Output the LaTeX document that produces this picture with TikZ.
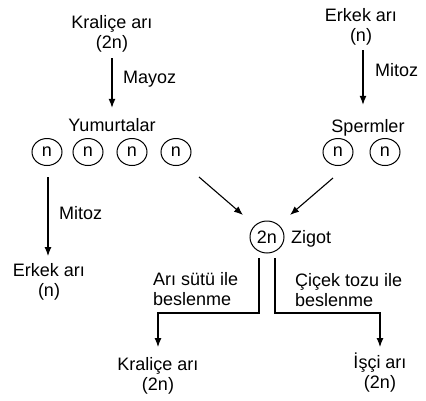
\documentclass[tikz,border=0pt]{standalone}
\usepackage{fontspec}
\setmainfont{Liberation Sans}
\usetikzlibrary{arrows.meta,calc,shapes.geometric}
\begin{document}
\begin{tikzpicture}[x=1pt,y=-1pt,
  every node/.style={inner sep=0pt,font=\fontsize{18}{20}\selectfont},
  txt/.style={align=center},
  lbl/.style={anchor=base west},
  cell/.style={draw,ellipse,line width=1pt,minimum width=30pt,minimum height=27pt},
  bigcell/.style={draw,ellipse,line width=1pt,minimum width=34pt,minimum height=32pt},
  arr/.style={line width=1.1pt,-{Latex[length=9pt,width=7pt]}},
  ln/.style={line width=1.1pt}]
\useasboundingbox (0,0) rectangle (426,400);
% top texts
\node[txt,anchor=north] (kq) at (112,15) {Kraliçe arı\\(2n)};
\node[txt,anchor=north] (ea) at (361,8) {Erkek arı\\(n)};
\node[anchor=base] (yum) at (112,131) {Yumurtalar};
\node[anchor=base] (sp) at (368,132) {Spermler};
% cells
\node[cell] (n1) at (47,152) {n};
\node[cell] (n2) at (88,152) {n};
\node[cell] (n3) at (132,152) {n};
\node[cell] (n4) at (176,152) {n};
\node[cell] (s1) at (338,152) {n};
\node[cell] (s2) at (385,152) {n};
\node[bigcell] (zig) at (267,237) {2n};
\node[lbl] (zl) at (291,243) {Zigot};
% lower texts
\node[txt,anchor=north] (ea2) at (49,263) {Erkek arı\\(n)};
\node[txt,anchor=north] (kq2) at (158,357) {Kraliçe arı\\(2n)};
\node[txt,anchor=north] (isci) at (380,353) {İşçi arı\\(2n)};
% labels
\node[lbl] (may) at (123,83) {Mayoz};
\node[lbl] (mit1) at (375,76) {Mitoz};
\node[lbl] (mit2) at (59,219) {Mitoz};
\node[txt,align=left,anchor=north west] (as) at (153,272) {Arı sütü ile\\beslenme};
\node[txt,align=left,anchor=north west] (ct) at (295,273) {Çiçek tozu ile\\beslenme};
% arrows
\draw[arr] ($(kq.south)+(0,6)$) -- ($(kq.south |- yum.north)+(0,-10)$);
\draw[arr] ($(ea.south)+(2,5)$) -- ($(ea.south |- sp.north)+(2,-14)$);
\draw[arr] ($(n1.south)+(1,11)$) -- ($(n1.south |- ea2.north)+(1,-7)$);
\draw[arr] ($(n4.center)+(23,25)$) -- ($(zig.center)+(-24,-22)$);
\draw[arr] ($(s1.center)+(-5,26)$) -- ($(zig.center)+(23,-22)$);
\draw[arr] ($(zig.center)+(-8,21)$) -- ($(zig.center)+(-8,76)$) -| ($(kq2.north)+(0,-10)$);
\draw[arr] ($(zig.center)+(8,21)$) -- ($(zig.center)+(8,76)$) -| ($(isci.north)+(0,-6)$);
\end{tikzpicture}
\end{document}
